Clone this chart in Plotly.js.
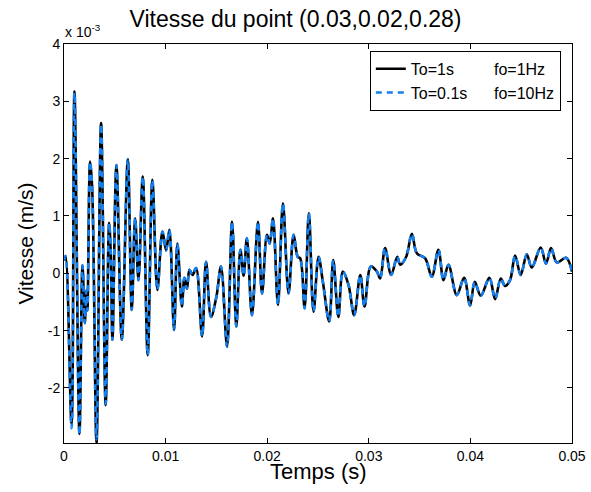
<!DOCTYPE html>
<html>
<head>
<meta charset="utf-8">
<script src="https://cdn.plot.ly/plotly-3.0.1.min.js"></script>
<style>html,body{margin:0;padding:0;background:#fff;}#chart{width:591px;height:492px;}</style>
</head>
<body>
<div id="chart"></div>
<script>
// time in milliseconds
const timeMs = [0, 0.15, 0.74, 1.03, 1.52, 1.82, 2.05, 2.2, 2.3, 2.57, 2.77, 3.2, 3.65, 4.1, 4.44, 4.6, 4.77, 5.16, 5.69, 6.28,
  6.67, 7.0, 7.33, 7.75, 8.24, 8.7, 9.19, 9.69, 10.05, 10.37, 10.83, 11.16, 11.6, 11.85, 12.1, 12.35, 12.65, 13.0, 13.59, 13.98,
  14.47, 15.0, 15.45, 16.05, 16.54, 16.96, 17.36, 17.68, 18.0, 18.5, 19.09, 19.49, 19.98, 20.25, 20.57, 21.06, 21.55, 22.1, 22.6, 23.0,
  23.25, 23.68, 24.1, 24.56, 25.05, 25.48, 26.1, 26.5, 27.0, 27.45, 28.0, 28.56, 29.16, 29.58, 30.2, 30.8, 31.12, 31.6, 32.2, 32.8,
  33.09, 33.68, 34.24, 34.73, 35.55, 36.2, 36.85, 37.35, 37.84, 38.66, 39.38, 39.97, 40.43, 41.02, 41.87, 42.43, 42.99, 43.41, 43.9, 44.4,
  44.95, 45.55, 46.04, 46.92, 47.44, 47.94, 48.5, 49.41, 50.0];
// velocity in units of 1e-3 m/s
const velTo1s = [0.22, 0.3, -2.62, 3.17, -2.8, 0.14, -0.87, -0.3, -0.65, 1.95, 1.5, -2.96, 2.62, -2.3, 0.88, 0.35, -1.16, 1.89, -1.16, 1.99,
  -0.64, 0.96, -0.12, 1.69, -1.43, 1.63, -0.29, 0.73, 0.4, 0.76, -0.99, 0.52, -0.58, -0.08, -0.27, 0.06, -0.03, 0.09, -1.1, 0.2,
  -0.76, -0.41, 0.12, -1.28, 0.9, -0.93, 0.41, -0.04, 0.61, -0.73, 0.9, -0.35, 0.67, 0.52, 0.96, -0.55, 1.22, -0.35, 0.67, 0.29,
  0.26, -0.61, 1.05, -0.67, 0.29, -0.15, -0.84, 0.23, -0.76, 0.03, -0.2, -0.73, -0.03, -0.58, 0.12, 0.03, -0.09, 0.44, -0.03, 0.29,
  0.15, 0.29, 0.69, 0.35, 0.26, -0.06, 0.41, -0.12, 0.15, -0.38, -0.08, -0.56, -0.15, -0.39, -0.08, -0.45, -0.09, -0.22, -0.12, 0.31,
  -0.03, 0.33, 0.1, 0.45, 0.17, 0.44, 0.19, 0.27, 0.03];
const velTo01s = [0.22, 0.3, -2.7, 3.15, -2.82, 0.14, -0.87, -0.3, -0.65, 1.95, 1.5, -2.9, 2.6, -2.28, 0.88, 0.35, -1.16, 1.89, -1.16, 1.99,
  -0.64, 0.96, -0.12, 1.69, -1.43, 1.63, -0.29, 0.73, 0.4, 0.76, -0.99, 0.52, -0.58, -0.08, -0.27, 0.06, -0.03, 0.09, -1.1, 0.2,
  -0.76, -0.41, 0.12, -1.28, 0.9, -0.93, 0.41, -0.04, 0.61, -0.73, 0.9, -0.35, 0.67, 0.52, 0.96, -0.55, 1.22, -0.35, 0.67, 0.29,
  0.26, -0.61, 1.05, -0.67, 0.29, -0.15, -0.84, 0.23, -0.76, 0.03, -0.2, -0.73, -0.03, -0.58, 0.12, 0.03, -0.09, 0.44, -0.03, 0.29,
  0.15, 0.29, 0.69, 0.35, 0.26, -0.06, 0.41, -0.12, 0.15, -0.38, -0.08, -0.56, -0.15, -0.39, -0.08, -0.45, -0.09, -0.22, -0.12, 0.31,
  -0.03, 0.33, 0.1, 0.45, 0.17, 0.44, 0.19, 0.27, 0.03];
const seriesNames = ['To=1s' + '\u00a0'.repeat(9) + 'fo=1Hz', 'To=0.1s' + '\u00a0'.repeat(6) + 'fo=10Hz'];
const xTickVals = [0, 0.01, 0.02, 0.03, 0.04, 0.05];
const xTickText = ['0', '0.01', '0.02', '0.03', '0.04', '0.05'];
const yTickVals = [-2, -1, 0, 1, 2, 3, 4];
const yTickText = ['-2', '-1', '0', '1', '2', '3', '4'];

const tSec = timeMs.map(v => v / 1000);
const FONT = 'Liberation Sans, Arial, Helvetica, sans-serif';

const traces = [
  {x: tSec, y: velTo1s, type: 'scatter', mode: 'lines', name: seriesNames[0],
   line: {color: '#000000', width: 2.6, shape: 'spline', smoothing: 1}},
  {x: tSec, y: velTo01s, type: 'scatter', mode: 'lines', name: seriesNames[1],
   line: {color: '#1480f0', width: 2.6, dash: '6px,5px', shape: 'spline', smoothing: 1}}
];

const axisCommon = {
  showline: true, linecolor: '#000', linewidth: 1, mirror: 'ticks',
  ticks: 'inside', ticklen: 5, tickcolor: '#000', tickwidth: 1,
  showgrid: false, zeroline: false,
  tickfont: {family: FONT, size: 14, color: '#000'}
};

const layout = {
  width: 591, height: 492,
  paper_bgcolor: '#fff', plot_bgcolor: '#fff',
  margin: {l: 64, r: 19, t: 44, b: 49},
  font: {family: FONT, color: '#000'},
  title: {text: 'Vitesse du point (0.03,0.02,0.28)', font: {family: FONT, size: 23, color: '#000'},
          xref: 'container', x: 0.5, xanchor: 'center', yref: 'container', y: 1 - 19 / 492, yanchor: 'middle'},
  xaxis: Object.assign({}, axisCommon, {
    range: [0, 0.05], tickvals: xTickVals, ticktext: xTickText
  }),
  yaxis: Object.assign({}, axisCommon, {
    range: [-2.96, 4], tickvals: yTickVals, ticktext: yTickText,
    title: {text: 'Vitesse (m/s)', font: {family: FONT, size: 21, color: '#000'}, standoff: 8}
  }),
  showlegend: true,
  legend: {x: 0.978, y: 0.983, xanchor: 'right', yanchor: 'top', bgcolor: '#fff', bordercolor: '#000', borderwidth: 1,
           font: {family: FONT, size: 16, color: '#000'}, tracegroupgap: 0},
  annotations: [
    {xref: 'paper', yref: 'paper', x: 0, y: 1, xanchor: 'left', yanchor: 'bottom', xshift: -1, yshift: 2,
     text: 'x 10<sup>-3</sup>', showarrow: false, font: {family: FONT, size: 14, color: '#000'}},
    {xref: 'paper', yref: 'paper', x: 0.5, y: 0, xanchor: 'center', yanchor: 'top', yshift: -14,
     text: 'Temps (s)', showarrow: false, font: {family: FONT, size: 22, color: '#000'}}
  ]
};

Plotly.newPlot('chart', traces, layout, {staticPlot: true, displayModeBar: false});
</script>
</body>
</html>
